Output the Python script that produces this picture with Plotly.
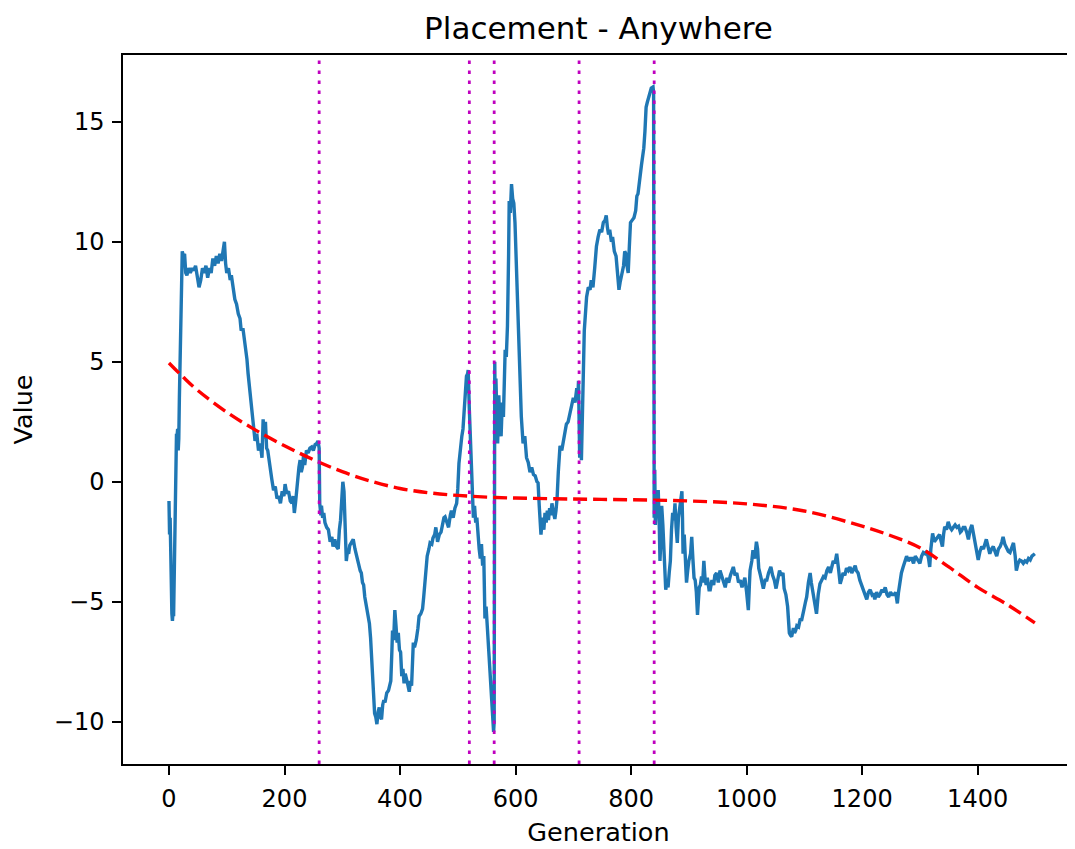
import plotly.graph_objects as go

# ---------------- data ----------------
# Blue series, split into phases between the marked change points: (generation, value)
phase_1 = [(0, -0.8), (1, -2.2), (2, -1.5), (3, -3.8), (4, -4.5), (5, -5.5), (6, -5.8), (7, -5.4), (8, -5.6),
           (9, -4.0), (10, -1.3), (11, -0.5), (12, 1.6), (13, 2.0), (14, 1.9), (15, 2.2), (16, 1.3), (17, 1.8),
           (18, 3.5), (19, 5.0), (20, 6.5), (21, 8.0), (22, 9.0), (23, 9.6), (25, 9.4), (27, 9.5), (29, 8.7),
           (31, 8.6), (34, 8.9), (37, 8.7), (40, 8.9), (43, 8.8), (46, 9.0), (49, 8.6), (52, 8.1), (55, 8.4),
           (58, 8.9), (61, 8.7), (64, 9.0), (67, 8.5), (70, 8.9), (73, 8.7), (76, 9.3), (79, 9.0), (82, 9.4),
           (85, 9.1), (88, 9.5), (91, 9.2), (94, 9.6), (96, 10.0), (98, 9.1), (100, 8.7), (103, 8.9), (106, 8.4),
           (108, 8.6), (111, 8.0), (114, 7.6), (117, 7.4), (120, 7.0), (123, 6.8), (125, 6.3), (128, 6.4),
           (131, 5.9), (133, 5.6), (135, 5.1), (137, 4.5), (140, 3.7), (143, 2.9), (146, 2.3), (149, 1.7),
           (152, 2.0), (155, 1.3), (158, 1.6), (161, 1.0), (163, 2.6), (165, 1.8), (167, 2.5), (169, 1.4),
           (171, 1.3), (173, 0.9), (175, 0.6), (178, 0.1), (181, -0.35), (184, -0.2), (187, -0.7), (190, -0.6),
           (193, -0.9), (196, -0.4), (199, -0.6), (201, -0.1), (204, -0.5), (207, -0.4), (210, -0.8), (213, -0.9),
           (215, -0.6), (217, -1.3), (219, -0.9), (221, -0.3), (223, 0.1), (225, 0.6), (227, 0.9), (229, 0.4),
           (231, 0.6), (233, 1.1), (235, 0.7), (238, 1.3), (241, 1.2), (244, 1.4), (247, 1.45), (250, 1.3),
           (253, 1.55), (256, 1.6), (258, 1.7), (260, 1.4)]
phase_2 = [(261, -0.9), (263, -1.4), (264, -1.0), (266, -1.5), (268, -1.3), (270, -1.7), (273, -1.9), (276, -2.0),
           (279, -2.5), (282, -2.3), (284, -2.7), (287, -2.4), (290, -2.7), (293, -2.8), (295, -2.0), (297, -1.6),
           (299, -0.8), (301, 0.0), (303, -0.4), (305, -1.5), (307, -3.3), (309, -2.9), (311, -3.0), (313, -2.65),
           (316, -2.5), (319, -2.4), (322, -2.8), (325, -3.2), (328, -3.4), (331, -3.7), (333, -3.8), (335, -4.2),
           (337, -4.3), (339, -4.8), (341, -5.1), (343, -5.5), (345, -5.6), (347, -5.9), (349, -6.5), (350, -6.9),
           (352, -8.2), (354, -8.9), (356, -9.65), (358, -9.8), (360, -10.1), (362, -9.6), (364, -9.4), (366, -9.8),
           (368, -9.9), (370, -9.3), (372, -9.1), (374, -9.2), (377, -8.8), (380, -8.7), (382, -8.4), (384, -8.3),
           (386, -7.0), (387, -6.2), (389, -6.6), (391, -5.35), (393, -6.0), (395, -6.7), (397, -6.3), (399, -7.0),
           (401, -7.1), (403, -8.1), (405, -7.8), (407, -8.4), (409, -8.0), (411, -8.3), (413, -8.4), (416, -8.75),
           (418, -8.3), (420, -8.5), (422, -7.2), (423, -6.7), (425, -6.9), (428, -6.6), (431, -6.1), (433, -5.6),
           (436, -5.5), (439, -5.3), (441, -4.8), (443, -4.2), (445, -3.6), (447, -3.1), (450, -2.8), (452, -2.55),
           (455, -2.6), (457, -2.35), (460, -2.2), (462, -1.9), (465, -2.5), (468, -2.2), (471, -2.1), (474, -1.7),
           (476, -1.5), (478, -1.46), (481, -1.7), (484, -1.9), (487, -1.4), (489, -1.2), (492, -1.5), (495, -1.1),
           (498, -0.9), (500, -0.3), (502, 0.77), (504, 1.4), (507, 1.9), (509, 2.2), (511, 3.1), (513, 3.6),
           (515, 4.4), (517, 4.5), (518, 4.65), (520, 3.0)]
phase_3 = [(522, 1.6), (524, 0.2), (525, -0.9), (527, -1.5), (529, -1.0), (531, -1.7), (533, -1.5), (535, -2.3),
           (537, -2.8), (539, -3.2), (541, -2.6), (543, -3.5), (545, -3.1), (547, -5.7), (549, -5.2), (551, -6.0),
           (553, -6.85), (555, -7.5), (557, -8.5), (559, -9.3), (561, -10.2), (562, -10.42), (563, -10.0)]
phase_4 = [(564, 5.0), (565, 2.5), (566, 4.3), (567, 3.0), (569, 1.6), (571, 3.6), (573, 2.2), (575, 1.9),
           (577, 3.3), (579, 2.7), (581, 4.0), (582, 5.5), (584, 5.2), (586, 6.5), (588, 9.5), (589, 11.7),
           (591, 11.2), (593, 12.4), (595, 11.8), (597, 11.6), (599, 10.8), (602, 8.4), (605, 6.0), (608, 3.9),
           (610, 2.7), (613, 1.6), (616, 1.9), (619, 1.0), (622, 0.8), (625, 0.4), (628, 0.6), (631, 0.3),
           (634, 0.25), (637, 0.0), (639, -0.05), (641, -1.0), (642, -1.6), (644, -2.2), (645, -1.9), (647, -1.5),
           (649, -2.0), (651, -1.3), (653, -1.7), (655, -1.2), (657, -1.6), (659, -1.1), (661, -1.4), (663, -0.9),
           (665, -1.2), (668, -1.55), (670, -1.2), (672, -0.65), (674, 0.4), (677, 1.5), (680, 1.3), (683, 1.8),
           (686, 2.1), (688, 2.4), (691, 2.5), (694, 2.8), (697, 3.1), (700, 3.5), (703, 3.3), (706, 3.9),
           (708, 3.6), (709, 4.2)]
phase_5 = [(711, 1.0), (713, 2.5), (714, 0.9), (716, 3.8), (717, 5.35), (719, 6.3), (721, 7.0), (723, 7.7),
           (726, 8.1), (729, 8.0), (731, 8.4), (734, 8.1), (737, 8.9), (740, 9.8), (743, 10.2), (746, 10.5),
           (749, 10.4), (752, 10.8), (755, 10.9), (757, 11.1), (759, 10.6), (761, 10.3), (763, 10.5), (766, 10.0),
           (768, 10.2), (771, 9.6), (774, 9.4), (777, 8.6), (779, 8.0), (781, 8.3), (784, 8.7), (787, 9.0),
           (789, 9.6), (791, 9.5), (793, 9.0), (795, 8.7), (797, 9.8), (799, 10.8), (802, 10.9), (805, 11.0),
           (808, 11.3), (810, 11.9), (812, 12.0), (814, 12.6), (816, 12.8), (818, 13.2), (820, 13.5), (822, 13.9),
           (824, 14.6), (826, 15.6), (828, 15.8), (830, 16.0), (832, 16.1), (835, 16.4), (838, 16.45), (839, 16.2)]
phase_6 = [(840, -1.5), (841, 0.5), (842, -1.8), (843, -0.8), (844, -0.6), (846, -1.2), (847, -0.35), (849, -2.0),
           (850, -3.3), (852, -2.2), (853, -1.0), (855, -1.8), (857, -2.8), (858, -3.5), (860, -4.5), (862, -4.2),
           (864, -4.4), (866, -3.8), (868, -3.3), (870, -2.0), (872, -1.3), (874, -1.6), (876, -0.9), (878, -1.9),
           (880, -2.55), (882, -1.5), (884, -1.1), (886, -0.6), (888, -0.4), (889, -1.5), (890, -3.0), (892, -2.2),
           (894, -3.5), (896, -4.2), (898, -3.7), (900, -3.3), (903, -3.0), (905, -2.3), (907, -3.2), (909, -4.0),
           (911, -4.1), (913, -4.6), (915, -5.55), (917, -4.6), (918, -4.4), (920, -4.3), (922, -3.95), (924, -4.2),
           (926, -3.3), (928, -4.0), (930, -4.3), (932, -4.0), (935, -4.5), (937, -4.5), (940, -4.1), (943, -4.3),
           (945, -3.9), (948, -3.8), (951, -4.2), (954, -3.7), (957, -3.9), (960, -4.1), (963, -4.4), (966, -4.0),
           (969, -4.2), (972, -3.9), (975, -3.6), (977, -3.55), (980, -3.9), (983, -3.8), (986, -4.2), (989, -4.1),
           (992, -4.4), (994, -4.25), (997, -4.0), (1000, -4.6), (1003, -5.35), (1005, -4.2), (1006, -3.7),
           (1009, -3.3), (1011, -2.85), (1014, -3.2), (1017, -2.5), (1019, -2.8), (1021, -3.6), (1024, -3.9),
           (1027, -4.2), (1029, -4.45), (1032, -4.1), (1035, -4.1), (1038, -3.8), (1042, -3.55), (1045, -3.9),
           (1048, -4.1), (1051, -4.45), (1054, -4.0), (1057, -3.7), (1060, -3.9), (1063, -3.8), (1065, -4.45),
           (1068, -4.7), (1071, -5.2), (1074, -6.3), (1076, -6.4), (1078, -6.45), (1081, -6.1), (1083, -6.3),
           (1085, -6.2), (1087, -6.0), (1090, -6.05), (1093, -5.7), (1095, -5.8), (1097, -5.5), (1099, -5.35),
           (1102, -5.0), (1104, -4.8), (1107, -4.2), (1110, -3.8), (1112, -4.2), (1114, -4.45), (1117, -4.9),
           (1119, -5.2), (1121, -5.5), (1124, -4.7), (1127, -4.25), (1130, -4.1), (1133, -3.95), (1136, -4.0),
           (1139, -3.7), (1142, -3.55), (1145, -3.8), (1148, -3.5), (1150, -3.3), (1153, -3.4), (1156, -3.0),
           (1159, -3.6), (1162, -4.25), (1165, -4.0), (1167, -3.8), (1170, -3.9), (1173, -3.6), (1176, -3.7),
           (1179, -3.55), (1182, -3.8), (1185, -3.6), (1188, -3.5), (1190, -3.7), (1193, -3.8), (1196, -4.1),
           (1199, -4.3), (1202, -4.5), (1205, -4.6), (1208, -4.9), (1211, -4.6), (1214, -4.5), (1217, -4.7),
           (1219, -4.65), (1222, -4.9), (1225, -4.6), (1228, -4.8), (1231, -4.7), (1234, -4.5), (1237, -4.6),
           (1240, -4.4), (1243, -4.7), (1246, -4.8), (1249, -4.6), (1252, -4.7), (1256, -4.7), (1258, -4.6),
           (1261, -5.07), (1263, -4.6), (1266, -4.1), (1268, -3.8), (1271, -3.55), (1274, -3.3), (1277, -3.1),
           (1280, -3.3), (1283, -3.2), (1286, -3.2), (1289, -3.4), (1292, -3.1), (1295, -3.2), (1298, -3.3),
           (1300, -3.4), (1303, -3.1), (1306, -2.95), (1309, -3.0), (1312, -2.9), (1315, -3.2), (1317, -3.55),
           (1319, -2.8), (1322, -2.15), (1325, -2.5), (1328, -2.4), (1331, -2.3), (1334, -2.2), (1337, -2.5),
           (1339, -2.7), (1341, -2.2), (1343, -1.87), (1346, -2.0), (1349, -1.67), (1352, -1.9), (1355, -2.0),
           (1358, -1.9), (1361, -1.8), (1364, -1.9), (1367, -1.85), (1370, -2.1), (1372, -2.05), (1375, -1.9),
           (1378, -1.9), (1381, -2.1), (1384, -2.4), (1387, -2.0), (1390, -1.8), (1393, -2.2), (1395, -2.45),
           (1398, -2.8), (1401, -3.26), (1404, -2.9), (1407, -2.7), (1410, -2.8), (1413, -2.6), (1415, -2.4),
           (1418, -2.7), (1421, -3.0), (1424, -2.8), (1427, -2.7), (1430, -2.9), (1433, -3.1), (1436, -2.8),
           (1439, -2.7), (1442, -2.5), (1444, -2.3), (1447, -2.6), (1450, -2.8), (1453, -2.9), (1456, -2.95),
           (1459, -2.7), (1462, -2.55), (1465, -3.1), (1467, -3.7), (1470, -3.4), (1473, -3.26), (1476, -3.3),
           (1479, -3.4), (1482, -3.3), (1485, -3.35), (1488, -3.2), (1491, -3.26), (1494, -3.1), (1497, -3.05),
           (1499, -3.0)]

# Red dashed trend curve, read at sample generations
trend_gen = [0, 25, 50, 100, 150, 200, 250, 300, 350, 400, 450, 500, 550, 600, 700, 800, 900, 1000,
             1100, 1200, 1250, 1300, 1350, 1400, 1450, 1499]
trend_val = [4.95, 4.35, 3.8, 2.9, 2.15, 1.5, 0.92, 0.42, 0.02, -0.28, -0.46, -0.57, -0.64, -0.68,
             -0.72, -0.75, -0.8, -0.92, -1.22, -1.85, -2.25, -2.75, -3.55, -4.4, -5.1, -5.88]

# Generations marked by vertical dotted lines
change_points = [260, 520, 563, 710, 840]

x_ticks = [0, 200, 400, 600, 800, 1000, 1200, 1400]
y_ticks = [-10, -5, 0, 5, 10, 15]
y_tick_text = ["\u221210", "\u22125", "0", "5", "10", "15"]

# ---------------- figure ----------------
series = phase_1 + phase_2 + phase_3 + phase_4 + phase_5 + phase_6
gens = [p[0] for p in series]
vals = [p[1] for p in series]

FONT = "DejaVu Sans"
# The page body keeps its default 8px margin, so the figure is sized to end at the window edge.
FIG_W, FIG_H = 1067, 841

fig = go.Figure()
fig.add_trace(go.Scatter(x=gens, y=vals, mode="lines",
                         line=dict(color="#1f77b4", width=3.4), showlegend=False))
fig.add_trace(go.Scatter(x=trend_gen, y=trend_val, mode="lines",
                         line=dict(color="#ff0000", width=3.4, dash="14px,6px", shape="spline"),
                         showlegend=False))

for g in change_points:
    fig.add_shape(type="line", xref="x", yref="paper", x0=g, x1=g, y0=0, y1=1,
                  line=dict(color="rgb(191,0,191)", width=2.8, dash="3.5px,6.5px"))

axis_common = dict(showgrid=False, zeroline=False, showline=True, mirror=True,
                   linecolor="black", linewidth=1.5, ticks="outside", ticklen=9,
                   tickwidth=1.5, tickcolor="black", ticklabelstandoff=3,
                   tickfont=dict(family=FONT, size=24, color="black"))

fig.update_layout(
    width=FIG_W, height=FIG_H,
    margin=dict(l=115, r=1, t=47, b=85, autoexpand=False),
    paper_bgcolor="white", plot_bgcolor="white",
    title=dict(text="Placement - Anywhere", x=0.5, xref="paper", xanchor="center",
               y=1 - 20 / FIG_H, yref="container", yanchor="middle",
               font=dict(family=FONT, size=31, color="black")),
    xaxis=dict(range=[-79.6, 1566.8], tickvals=x_ticks,
               title=dict(text="Generation", standoff=12,
                          font=dict(family=FONT, size=25.5, color="black")),
               **axis_common),
    yaxis=dict(range=[-11.76, 17.78], tickvals=y_ticks, ticktext=y_tick_text,
               title=dict(text="Value", standoff=19,
                          font=dict(family=FONT, size=25.5, color="black")),
               **axis_common),
)

fig.write_html("out.html")
